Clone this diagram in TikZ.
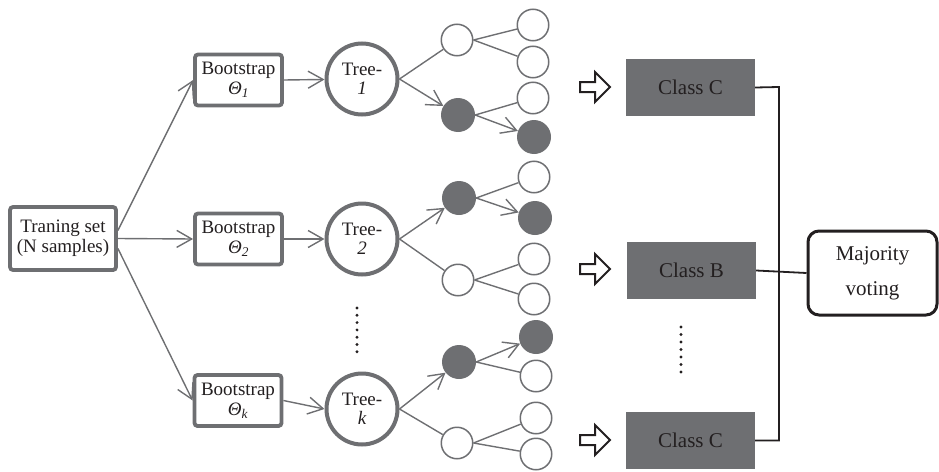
\documentclass[tikz,border=0pt]{standalone}
\usepackage{fontspec}
\setmainfont{Liberation Serif}
\usetikzlibrary{arrows.meta}
\definecolor{dg}{RGB}{110,111,114}
\definecolor{ink}{RGB}{35,31,32}
\newcommand\hollarr[2]{%
  \draw[line width=2pt, draw=ink, fill=white, line join=miter]
    (#1,#2-5) -- (#1+15,#2-5) -- (#1+15,#2-15) -- (#1+30,#2) -- (#1+15,#2+15)
    -- (#1+15,#2+5) -- (#1,#2+5) -- cycle;}
\begin{document}
\begin{tikzpicture}[x=1pt,y=-1pt,
  ln/.style={draw=dg, line width=1.4pt},
  arr/.style={ln, -{Straight Barb[length=15pt,width=17pt]}},
  bx/.style={draw=dg, line width=3.8pt, rounded corners=3pt, fill=white,
    inner sep=0pt, align=center, text=ink, font=\fontsize{19}{20}\selectfont},
  tree/.style={circle, draw=dg, line width=4pt, minimum size=71pt, inner sep=0pt,
    fill=white, align=center, text=ink, font=\fontsize{19}{20}\selectfont},
  leaf/.style={circle, draw=dg, line width=1.5pt, minimum size=31.5pt, inner sep=0pt, fill=white},
  fleaf/.style={circle, fill=dg, minimum size=34pt, inner sep=0pt},
  cls/.style={rectangle, fill=dg, minimum width=129pt, minimum height=57pt, inner sep=0pt,
    text=ink, font=\fontsize{21}{24}\selectfont},
  blk/.style={draw=ink, line width=1.8pt}
]
\useasboundingbox (0,0) rectangle (939,471);

% left column
\node[bx, minimum width=106pt, minimum height=63pt] (train) at (63,238.5) {Traning set\\(N samples)};
\node[bx, minimum width=87pt, minimum height=51pt] (b1) at (238.5,80) {Bootstrap\\{\itshape Θ\textsubscript{1}}};
\node[bx, minimum width=87pt, minimum height=51pt] (b2) at (238.5,239) {Bootstrap\\{\itshape Θ\textsubscript{2}}};
\node[bx, minimum width=87pt, minimum height=51pt] (bk) at (238,400.5) {Bootstrap\\{\itshape Θ\textsubscript{k}}};

\draw[arr] ([yshift=8pt]train.east) -- (b1.west);
\draw[arr] (train.east) -- (b2.west);
\draw[arr] ([yshift=-10pt]train.east) -- (bk.west);

% trees
\node[tree] (t1) at (362,79) {Tree-\\[-1pt]{\itshape 1}};
\node[tree] (t2) at (362,239) {Tree-\\[-1pt]{\itshape 2}};
\node[tree] (tk) at (362,409) {Tree-\\[-1pt]{\itshape k}};

\draw[arr] (b1.east) -- (t1);
\draw[arr] (b2.east) -- (t2);
\draw[arr] (bk.east) -- (tk.west);

\foreach \i in {0,...,6} \fill[ink] (357,308+7.3*\i) circle (1.6);

% tree 1
\node[leaf]  (a1)  at (457,40) {};
\node[fleaf] (f1)  at (458,115) {};
\node[leaf]  (l11) at (533,25) {};
\node[leaf]  (l12) at (533,62) {};
\node[leaf]  (l13) at (533,98) {};
\node[fleaf] (l14) at (534,137) {};
\draw[ln]  (t1.east) -- (a1);
\draw[arr] (t1.east) -- (f1);
\draw[ln]  (a1.east) -- (l11);
\draw[ln]  (a1.east) -- (l12);
\draw[ln]  (f1.east) -- (l13);
\draw[arr] (f1.east) -- (l14);

% tree 2
\node[fleaf] (f2)  at (459,198) {};
\node[leaf]  (a2)  at (458,280) {};
\node[leaf]  (l21) at (534,177) {};
\node[fleaf] (l22) at (535,218) {};
\node[leaf]  (l23) at (534,259) {};
\node[leaf]  (l24) at (534,299) {};
\draw[arr] (t2.east) -- (f2);
\draw[ln]  (t2.east) -- (a2);
\draw[ln]  (f2.east) -- (l21);
\draw[arr] (f2.east) -- (l22);
\draw[ln]  (a2.east) -- (l23);
\draw[ln]  (a2.east) -- (l24);

% tree k
\node[fleaf] (fk)  at (459,362) {};
\node[leaf]  (ak)  at (457,443) {};
\node[fleaf] (lk1) at (536,337) {};
\node[leaf]  (lk2) at (536,376) {};
\node[leaf]  (lk3) at (536,418) {};
\node[leaf]  (lk4) at (536,454) {};
\draw[arr] (tk.east) -- (fk);
\draw[ln]  (tk.east) -- (ak);
\draw[arr] (fk.east) -- (lk1);
\draw[ln]  (fk.east) -- (lk2);
\draw[ln]  (ak.east) -- (lk3);
\draw[ln]  (ak.east) -- (lk4);

% classes
\node[cls] (c1) at (690.5,87.5) {Class C};
\node[cls] (cb) at (691.5,270.5) {Class B};
\node[cls] (c2) at (690.5,440.5) {Class C};
\hollarr{580}{87}
\hollarr{580}{269}
\hollarr{580}{440}
\foreach \i in {0,...,6} \fill[ink] (681,327+7.5*\i) circle (1.6);

\node[draw=ink, line width=3pt, rounded corners=11pt, minimum width=129pt, minimum height=84pt,
  inner sep=0pt, align=center, text=ink, font=\fontsize{21}{35}\selectfont] (mv) at (872.5,273) {Majority\\voting};

\coordinate (kn) at (779,87);
\draw[blk] (c1.east) -- (kn) |- (c2.east);
\draw[blk] (cb.east) -- (mv.west);
\end{tikzpicture}
\end{document}
